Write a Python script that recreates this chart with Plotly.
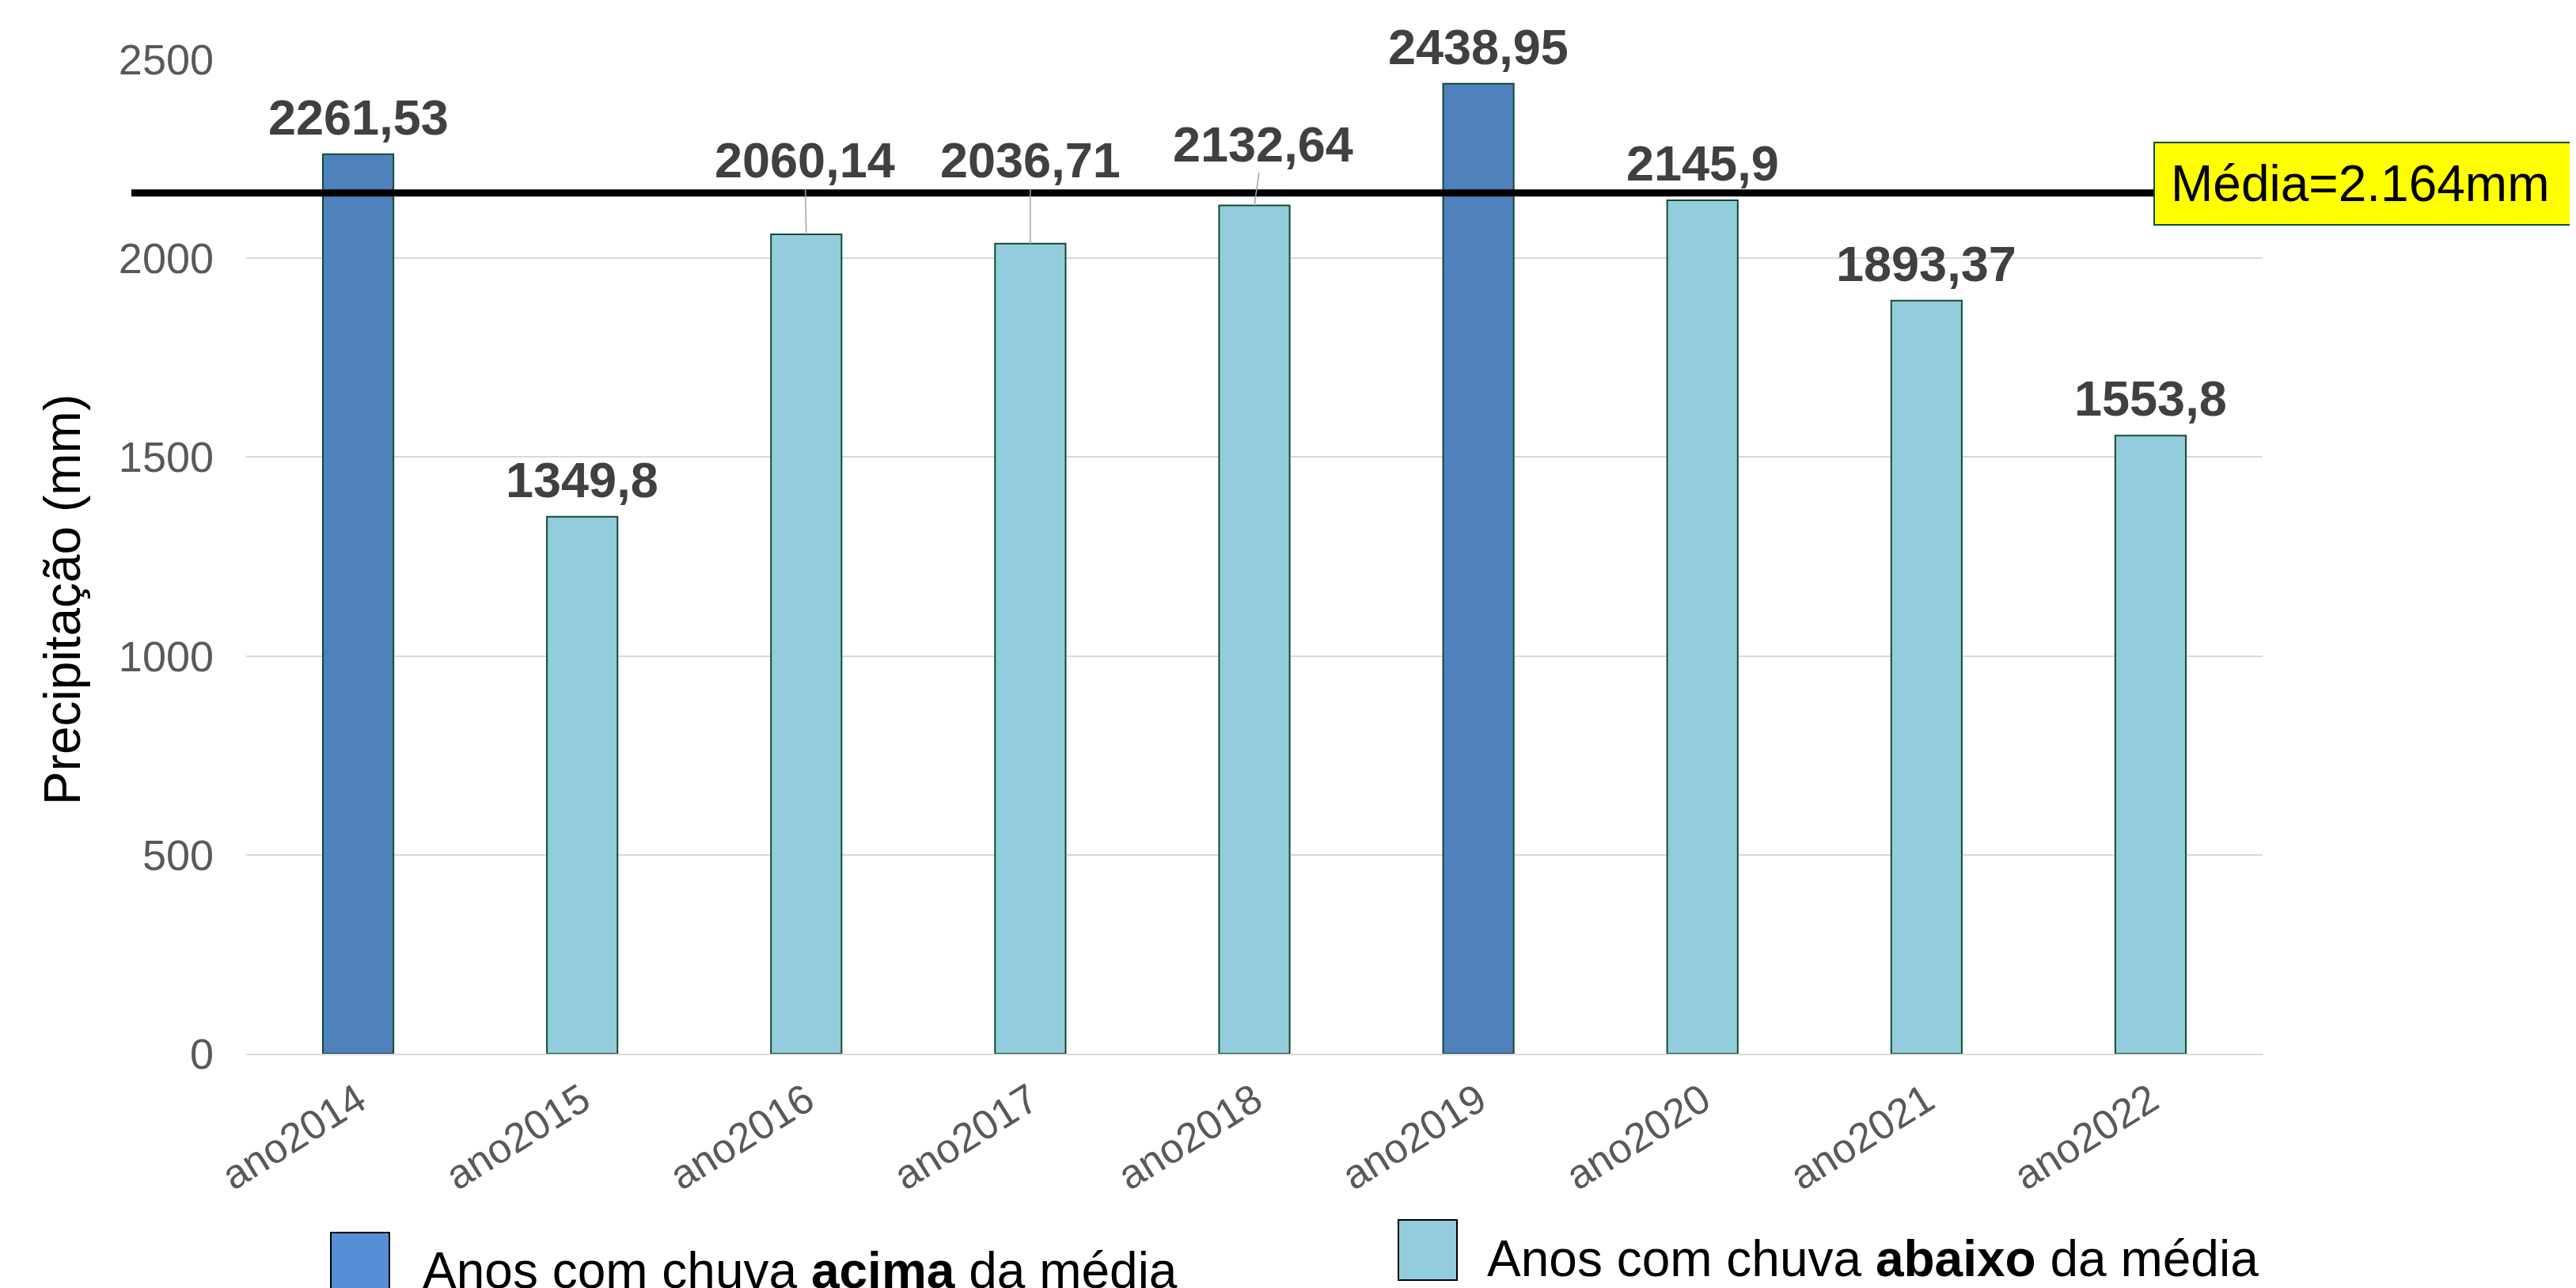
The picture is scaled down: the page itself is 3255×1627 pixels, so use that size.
import plotly.graph_objects as go

# dados
ANOS = ["ano2014", "ano2015", "ano2016", "ano2017", "ano2018",
        "ano2019", "ano2020", "ano2021", "ano2022"]
PRECIP = [2261.53, 1349.8, 2060.14, 2036.71, 2132.64,
          2438.95, 2145.9, 1893.37, 1553.8]
MEDIA = 2164
Y_TICKS = [0, 500, 1000, 1500, 2000, 2500]

LEGENDA_ACIMA = "Anos com chuva <b>acima</b> da média"
LEGENDA_ABAIXO = "Anos com chuva <b>abaixo</b> da média"

# estilo
W, H = 3255, 1627
OFF = 8  # margem do <body> da página
ML, MR, MT, MB = 311 - OFF, 404, 75 - OFF, 304
AZUL_ESCURO = "#4F81BD"
AZUL_CLARO = "#93CDDD"
AZUL_LEGENDA = "#558ED5"
BORDA = "#0F4D2F"
FONT = "Liberation Sans, Arial, sans-serif"

# deslocamento dos rótulos que foram afastados das barras (ax, ay em px)
ROTULO_DESLOCADO = {"ano2016": (-2, -94), "ano2017": (0, -106), "ano2018": (11, -78)}

plot_w = W - ML - MR
plot_h = H - MT - MB


# posições medidas na página -> coordenadas paper
def px_x(px):
    return (px - OFF - ML) / plot_w


def px_y(py):
    return (H - MB - (py - OFF)) / plot_h


cores = [AZUL_ESCURO if v > MEDIA else AZUL_CLARO for v in PRECIP]

fig = go.Figure(
    go.Bar(
        x=ANOS,
        y=PRECIP,
        width=0.315,
        marker=dict(color=cores, line=dict(color=BORDA, width=2)),
        showlegend=False,
        hoverinfo="x+y",
    )
)

# rótulos de dados
for ano, v in zip(ANOS, PRECIP):
    texto = f"{v}".replace(".", ",")
    fonte = dict(family=FONT, size=63, color="#404040")
    if ano in ROTULO_DESLOCADO:
        ax, ay = ROTULO_DESLOCADO[ano]
        fig.add_annotation(
            x=ano, y=v, text=f"<b>{texto}</b>", font=fonte,
            showarrow=True, arrowhead=0, arrowwidth=1.5, arrowcolor="#A6A6A6",
            ax=ax, ay=ay, standoff=0,
        )
    else:
        fig.add_annotation(
            x=ano, y=v, text=f"<b>{texto}</b>", font=fonte,
            showarrow=False, yanchor="middle", yshift=47,
        )

# linha da média
fig.add_shape(
    type="line", xref="paper", yref="y",
    x0=px_x(166), x1=px_x(2721), y0=MEDIA, y1=MEDIA,
    line=dict(color="black", width=9), layer="above",
)
fig.add_annotation(
    xref="paper", yref="y", x=px_x(2721), y=MEDIA,
    xanchor="left", yanchor="middle", yshift=12,
    text=f"Média={MEDIA:,}mm".replace(",", "."),
    font=dict(family=FONT, size=64, color="black"),
    showarrow=False, align="left",
    bgcolor="#FFFF00", bordercolor=BORDA, borderwidth=2, borderpad=20,
    width=620, height=62,
)

# título do eixo y
fig.add_annotation(
    xref="paper", yref="paper", x=px_x(79), y=px_y(758),
    text="Precipitação (mm)", textangle=-90, showarrow=False,
    xanchor="center", yanchor="middle",
    font=dict(family=FONT, size=64, color="black"),
)

# legenda
for (x0, x1, y0, y1, cor), (tx, ty, texto) in [
    ((418, 492, 1557, 1660, AZUL_LEGENDA), (532, 1605, LEGENDA_ACIMA)),
    ((1767, 1841, 1541, 1617, AZUL_CLARO), (1877, 1590, LEGENDA_ABAIXO)),
]:
    fig.add_shape(
        type="rect", xref="paper", yref="paper",
        x0=px_x(x0), x1=px_x(x1), y0=px_y(y0), y1=px_y(y1),
        fillcolor=cor, line=dict(color="black", width=2),
    )
    fig.add_annotation(
        xref="paper", yref="paper", x=px_x(tx), y=px_y(ty),
        xanchor="left", yanchor="middle", showarrow=False, text=texto,
        font=dict(family=FONT, size=64, color="black"),
    )

fig.update_layout(
    width=W, height=H,
    margin=dict(l=ML, r=MR, t=MT, b=MB, autoexpand=False),
    paper_bgcolor="white", plot_bgcolor="white",
    font=dict(family=FONT),
    bargap=0.685,
)
fig.update_xaxes(
    tickangle=-32, tickfont=dict(family=FONT, size=52, color="#595959"),
    showline=True, linecolor="#D9D9D9", linewidth=2,
    ticks="", ticklabelstandoff=6,
)
fig.update_yaxes(
    range=[0, 2500], tickvals=Y_TICKS,
    tickfont=dict(family=FONT, size=54, color="#595959"),
    showgrid=True, gridcolor="#D9D9D9", gridwidth=2,
    zeroline=False, showline=False, ticks="", ticklabelstandoff=40,
)

fig.write_html("out.html")
